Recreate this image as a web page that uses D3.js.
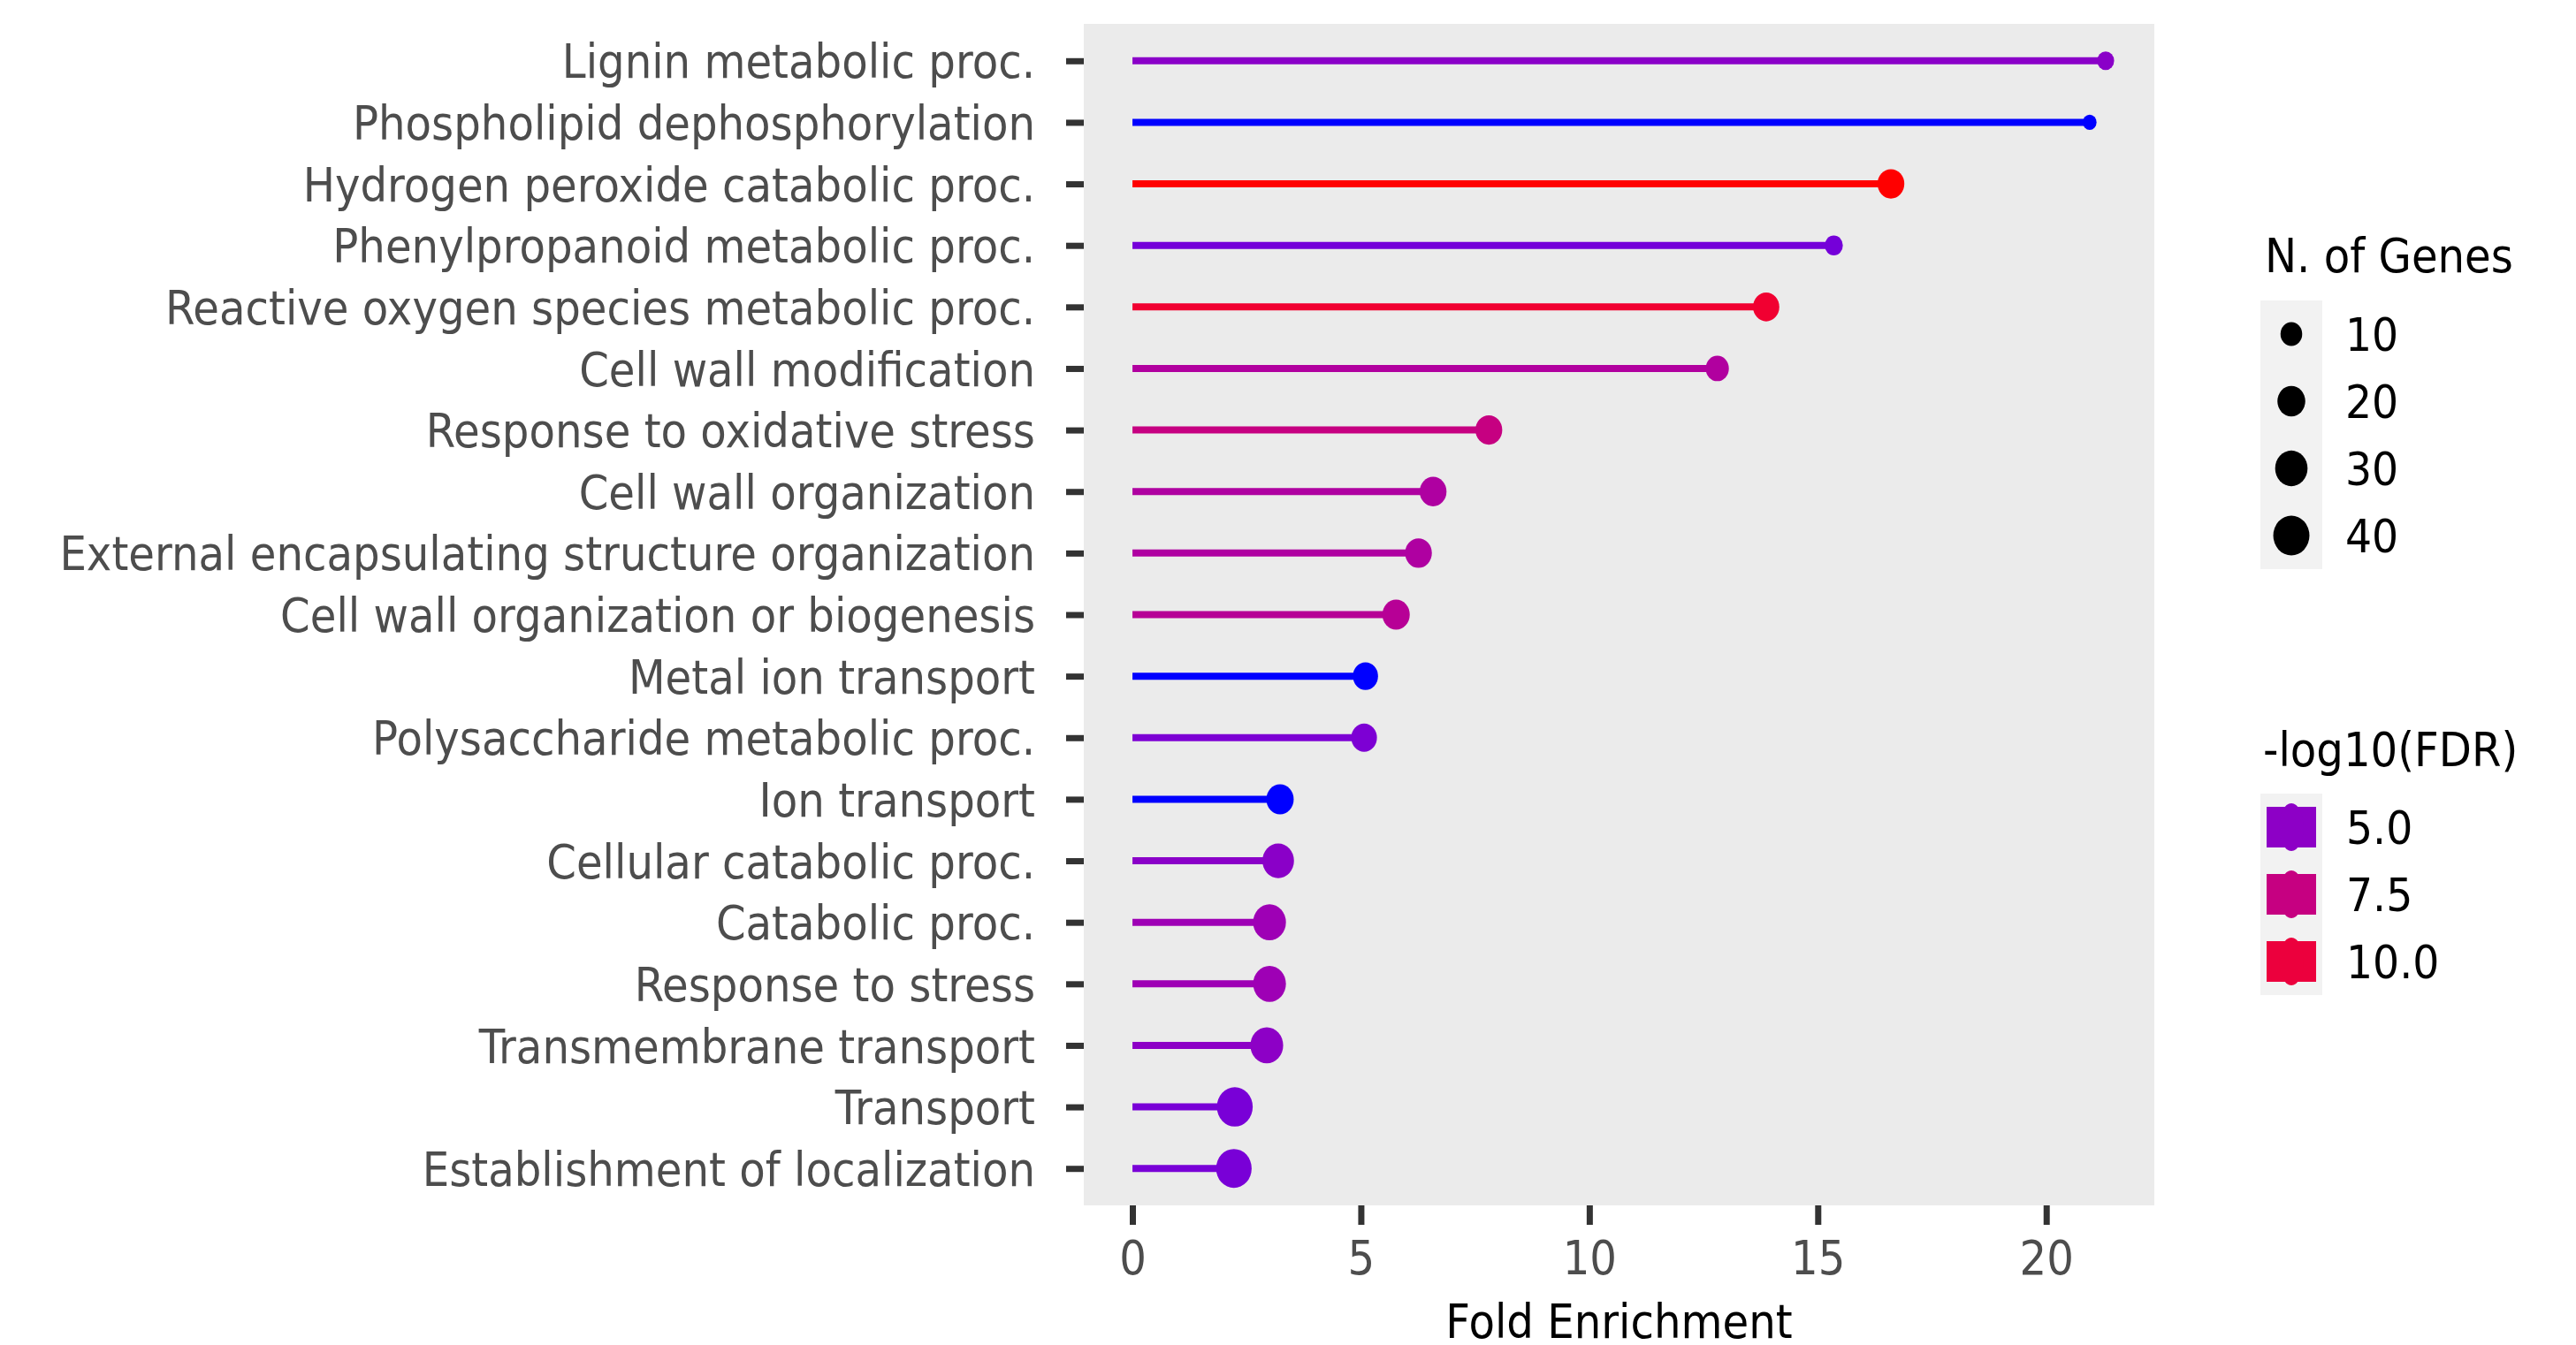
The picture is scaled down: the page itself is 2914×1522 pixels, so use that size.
<!DOCTYPE html>
<html>
<head>
<meta charset="utf-8">
<script src="https://cdn.jsdelivr.net/npm/d3@7"></script>
<style>
  body { margin: 0; background: #fff; }
  text { font-family: 'DejaVu Sans', sans-serif; }
</style>
</head>
<body>
<div id="chart"></div>
<script>
// GO terms, top to bottom
const terms = [
  'Lignin metabolic proc.',
  'Phospholipid dephosphorylation',
  'Hydrogen peroxide catabolic proc.',
  'Phenylpropanoid metabolic proc.',
  'Reactive oxygen species metabolic proc.',
  'Cell wall modification',
  'Response to oxidative stress',
  'Cell wall organization',
  'External encapsulating structure organization',
  'Cell wall organization or biogenesis',
  'Metal ion transport',
  'Polysaccharide metabolic proc.',
  'Ion transport',
  'Cellular catabolic proc.',
  'Catabolic proc.',
  'Response to stress',
  'Transmembrane transport',
  'Transport',
  'Establishment of localization'
]
const foldEnrichment = [21.3, 20.95, 16.6, 15.35, 13.87, 12.8, 7.8, 6.58, 6.26, 5.77,
  5.1, 5.07, 3.23, 3.19, 3.0, 3.0, 2.94, 2.24, 2.22]
const nGenes = [5, 3, 18, 6, 17, 12, 18, 18, 18, 19,
  15, 16, 19, 28, 31, 31, 31, 39, 38]
const negLogFdr = [4.9, 3.0, 11.45, 4.3, 10.4, 6.4, 7.5, 6.3, 6.3, 6.7,
  3.0, 4.5, 3.0, 4.9, 5.6, 5.6, 5.0, 4.4, 4.4]

const sizeBreaks = [10, 20, 30, 40]
const colorBreaks = [5.0, 7.5, 10.0]
const xTicks = [0, 5, 10, 15, 20]

const width = 2914
const height = 1522
// the picture is squeezed sideways, so draw in a stretched space
const sx = 0.91
const X = v => v / sx

const panel = { left: 1226, right: 2437, top: 27, bottom: 1364 }

const svg = d3
  .select('#chart')
  .append('svg')
  .attr('width', width)
  .attr('height', height)

const g = svg.append('g').attr('transform', 'scale(' + sx + ',1)')

const datapoints = terms.map((term, i) => ({
  term: term,
  fe: foldEnrichment[i],
  genes: nGenes[i],
  fdr: negLogFdr[i]
}))

const feMax = d3.max(foldEnrichment)
const xPositionScale = d3
  .scaleLinear()
  .domain([-0.05 * feMax, feMax * 1.05])
  .range([X(panel.left), X(panel.right)])

const yPositionScale = d3
  .scalePoint()
  .domain(terms)
  .range([panel.top, panel.bottom])
  .padding(0.6)

const colorScale = d3
  .scaleLinear()
  .domain(d3.extent(negLogFdr))
  .range(['#0000ff', '#ff0000'])
  .interpolate(d3.interpolateLab)

const radiusScale = d3.scaleLinear().domain([0, Math.sqrt(38)]).range([5.85, 22.5])
const radius = n => radiusScale(Math.sqrt(Math.max(n - 2, 0)))

// panel
g.append('rect')
  .attr('x', X(panel.left))
  .attr('y', panel.top)
  .attr('width', X(panel.right - panel.left))
  .attr('height', panel.bottom - panel.top)
  .attr('fill', '#ebebeb')

// lollipops
g.selectAll('.stick')
  .data(datapoints)
  .enter()
  .append('line')
  .attr('class', 'stick')
  .attr('x1', xPositionScale(0))
  .attr('x2', d => xPositionScale(d.fe))
  .attr('y1', d => yPositionScale(d.term))
  .attr('y2', d => yPositionScale(d.term))
  .attr('stroke', d => colorScale(d.fdr))
  .attr('stroke-width', 8)

g.selectAll('.dot')
  .data(datapoints)
  .enter()
  .append('circle')
  .attr('class', 'dot')
  .attr('cx', d => xPositionScale(d.fe))
  .attr('cy', d => yPositionScale(d.term))
  .attr('r', d => radius(d.genes))
  .attr('fill', d => colorScale(d.fdr))

// axes
const yAxis = d3.axisLeft(yPositionScale).tickSize(X(20)).tickPadding(X(35))
const yg = g.append('g')
  .attr('transform', 'translate(' + X(panel.left) + ',0)')
  .call(yAxis)
yg.select('.domain').remove()
yg.attr('font-size', 53).attr('font-family', 'DejaVu Sans')
yg.selectAll('text').attr('fill', '#4d4d4d').attr('dy', '0.36em')
yg.selectAll('line').attr('stroke', '#333333').attr('stroke-width', 7)

const xAxis = d3.axisBottom(xPositionScale).tickValues(xTicks).tickSize(22).tickPadding(18)
const xg = g.append('g')
  .attr('transform', 'translate(0,' + panel.bottom + ')')
  .call(xAxis)
xg.select('.domain').remove()
xg.attr('font-size', 53).attr('font-family', 'DejaVu Sans')
xg.selectAll('text').attr('fill', '#4d4d4d')
xg.selectAll('line').attr('stroke', '#333333').attr('stroke-width', X(7))

g.append('text')
  .attr('x', X((panel.left + panel.right) / 2))
  .attr('y', 1514)
  .attr('text-anchor', 'middle')
  .attr('font-size', 53)
  .attr('fill', '#000')
  .text('Fold Enrichment')

// size legend
g.append('text')
  .attr('x', X(2562))
  .attr('y', 308)
  .attr('font-size', 53)
  .text('N. of Genes')

const sizeKeys = g.selectAll('.size-key')
  .data(sizeBreaks)
  .enter()
  .append('g')
  .attr('class', 'size-key')
  .attr('transform', (d, i) => 'translate(0,' + (340 + i * 76) + ')')

sizeKeys.append('rect')
  .attr('x', X(2557))
  .attr('width', X(70))
  .attr('height', 76)
  .attr('fill', '#f2f2f2')
sizeKeys.append('circle')
  .attr('cx', X(2592))
  .attr('cy', 38)
  .attr('r', d => radius(d))
  .attr('fill', '#000')
sizeKeys.append('text')
  .attr('x', X(2653))
  .attr('y', 38)
  .attr('dy', '0.36em')
  .attr('font-size', 52)
  .text(d => d)

// colour legend
g.append('text')
  .attr('x', X(2560))
  .attr('y', 867)
  .attr('font-size', 53)
  .text('-log10(FDR)')

const colorKeys = g.selectAll('.color-key')
  .data(colorBreaks)
  .enter()
  .append('g')
  .attr('class', 'color-key')
  .attr('transform', (d, i) => 'translate(0,' + (898 + i * 76) + ')')

colorKeys.append('rect')
  .attr('x', X(2557))
  .attr('width', X(70))
  .attr('height', 76)
  .attr('fill', '#f2f2f2')
colorKeys.append('rect')
  .attr('x', X(2564))
  .attr('y', 15)
  .attr('width', X(56))
  .attr('height', 46)
  .attr('fill', d => colorScale(d))
colorKeys.append('ellipse')
  .attr('cx', X(2592))
  .attr('cy', 38)
  .attr('rx', X(14))
  .attr('ry', 27)
  .attr('fill', d => colorScale(d))
colorKeys.append('text')
  .attr('x', X(2654))
  .attr('y', 38)
  .attr('dy', '0.36em')
  .attr('font-size', 52)
  .text(d => d.toFixed(1))
</script>
</body>
</html>
